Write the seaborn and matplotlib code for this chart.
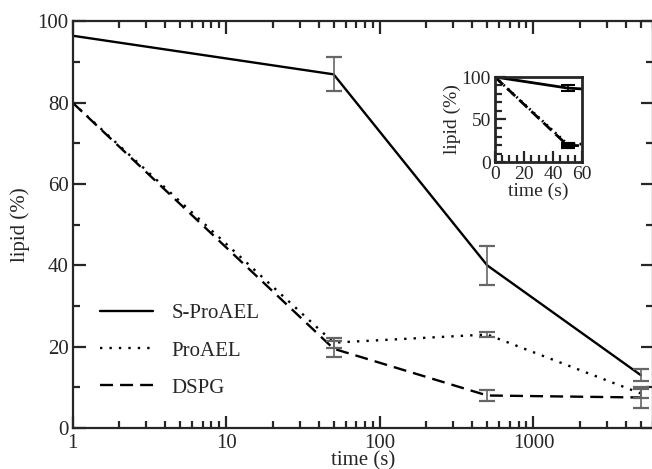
import numpy as np
import pandas as pd
import matplotlib
matplotlib.use("Agg")
import matplotlib.pyplot as plt
import seaborn as sns
from matplotlib.ticker import LogLocator, NullFormatter, FixedLocator, MultipleLocator

# ---- data ----
time_s = [1, 50, 500, 5000]
s_proael = [96.5, 87.0, 40.0, 13.0]
s_proael_err = [0.0, 4.2, 4.7, 1.5]
proael = [80.0, 21.0, 23.0, 8.5]
proael_err = [0.0, 1.2, 0.5, 1.0]
dspg = [80.0, 19.5, 8.0, 7.5]
dspg_err = [0.0, 2.0, 1.4, 2.5]
series_names = ["S-ProAEL", "ProAEL", "DSPG"]

inset_time = [0, 50, 500]
inset_s_proael = [100.0, 87.0, 40.0]
inset_s_proael_err = [0.0, 3.5, 0.0]
inset_proael = [100.0, 21.0, 23.0]
inset_dspg = [100.0, 19.5, 8.0]
inset_low_err = [0.0, 2.0, 0.0]

FS = 15
FS_IN = 14

sns.set_theme(style="ticks")
plt.rcParams["font.family"] = ["Liberation Serif", "DejaVu Serif"]
plt.rcParams["axes.linewidth"] = 1.5

df = pd.DataFrame({
    "time": time_s * 3,
    "lipid": s_proael + proael + dspg,
    "series": [series_names[0]] * 4 + [series_names[1]] * 4 + [series_names[2]] * 4,
})

fig = plt.figure(figsize=(6.52, 4.69), dpi=100)
ax = fig.add_axes([72.7 / 652, 1 - 428 / 469, (653 - 72.7) / 652, (428 - 21.5) / 469])

styles = {"S-ProAEL": "", "ProAEL": (1.0, 3.0), "DSPG": (5.5, 3)}
sns.lineplot(data=df, x="time", y="lipid", hue="series", style="series",
             palette=["black"] * 3, dashes=styles, linewidth=1.7, ax=ax,
             legend=True, estimator=None, sort=False)

for vals, errs in [(s_proael, s_proael_err), (proael, proael_err), (dspg, dspg_err)]:
    t = np.array(time_s[1:])
    ax.errorbar(t, vals[1:], yerr=errs[1:], fmt="none", ecolor="0.4",
                elinewidth=1.2, capsize=6, capthick=1.6)

ax.set_xscale("log")
ax.set_xlim(1, 6000)
ax.set_ylim(0, 100)
ax.set_xlabel("time (s)", fontsize=FS, labelpad=-1)
ax.set_ylabel("lipid (%)", fontsize=FS, labelpad=5)
ax.xaxis.set_major_locator(FixedLocator([1, 10, 100, 1000]))
ax.set_xticklabels(["1", "10", "100", "1000"])
ax.xaxis.set_minor_locator(LogLocator(base=10, subs=np.arange(2, 10)))
ax.xaxis.set_minor_formatter(NullFormatter())
ax.yaxis.set_major_locator(MultipleLocator(20))
ax.yaxis.set_minor_locator(MultipleLocator(10))
ax.tick_params(which="both", direction="in", top=True, right=True, labelsize=FS, width=1.6)
ax.tick_params(axis="x", pad=4)
ax.tick_params(axis="y", pad=3)
ax.tick_params(which="major", length=9)
ax.tick_params(which="minor", length=5)
for sp in ax.spines.values():
    sp.set_linewidth(1.6)
    sp.set_visible(True)

h, l = ax.get_legend_handles_labels()
for hh in h:
    hh.set_linewidth(1.7)
ax.legend(h, l, loc="center left", bbox_to_anchor=(0.047, 0.19), frameon=False,
          fontsize=FS, handlelength=2.55, handletextpad=0.87, labelspacing=0.84,
          borderpad=0, borderaxespad=0)

# ---- inset ----
idf = pd.DataFrame({
    "time": inset_time * 3,
    "lipid": inset_s_proael + inset_proael + inset_dspg,
    "series": [series_names[0]] * 3 + [series_names[1]] * 3 + [series_names[2]] * 3,
})
ax2 = fig.add_axes([495 / 652, 1 - 162 / 469, 87 / 652, 85 / 469])
sns.lineplot(data=idf, x="time", y="lipid", hue="series", style="series",
             palette=["black"] * 3, dashes={"S-ProAEL": "", "ProAEL": (0.6, 1.5), "DSPG": (4, 2)},
             linewidth=2.0, ax=ax2, legend=False, estimator=None, sort=False)
ax2.errorbar(inset_time[1:2], inset_s_proael[1:2], yerr=inset_s_proael_err[1:2], fmt="none",
             ecolor="black", elinewidth=1.2, capsize=5, capthick=1.5)
ax2.errorbar(inset_time[1:2], inset_dspg[1:2], yerr=inset_low_err[1:2], fmt="none",
             ecolor="black", elinewidth=4, capsize=5, capthick=3)
ax2.set_xlim(0, 60)
ax2.set_ylim(0, 100)
ax2.xaxis.set_major_locator(MultipleLocator(20))
ax2.xaxis.set_minor_locator(MultipleLocator(5))
ax2.yaxis.set_major_locator(MultipleLocator(50))
ax2.yaxis.set_minor_locator(MultipleLocator(10))
ax2.tick_params(which="both", direction="in", labelsize=FS_IN, width=1.6)
ax2.tick_params(axis="x", pad=3)
ax2.tick_params(axis="y", pad=3)
ax2.tick_params(which="major", length=8)
ax2.tick_params(which="minor", length=5)
ax2.set_xlabel("time (s)", fontsize=FS_IN, labelpad=0)
ax2.set_ylabel("lipid (%)", fontsize=FS_IN, labelpad=0)
for sp in ax2.spines.values():
    sp.set_linewidth(2)
    sp.set_visible(True)

fig.savefig("out.png", dpi=100)
